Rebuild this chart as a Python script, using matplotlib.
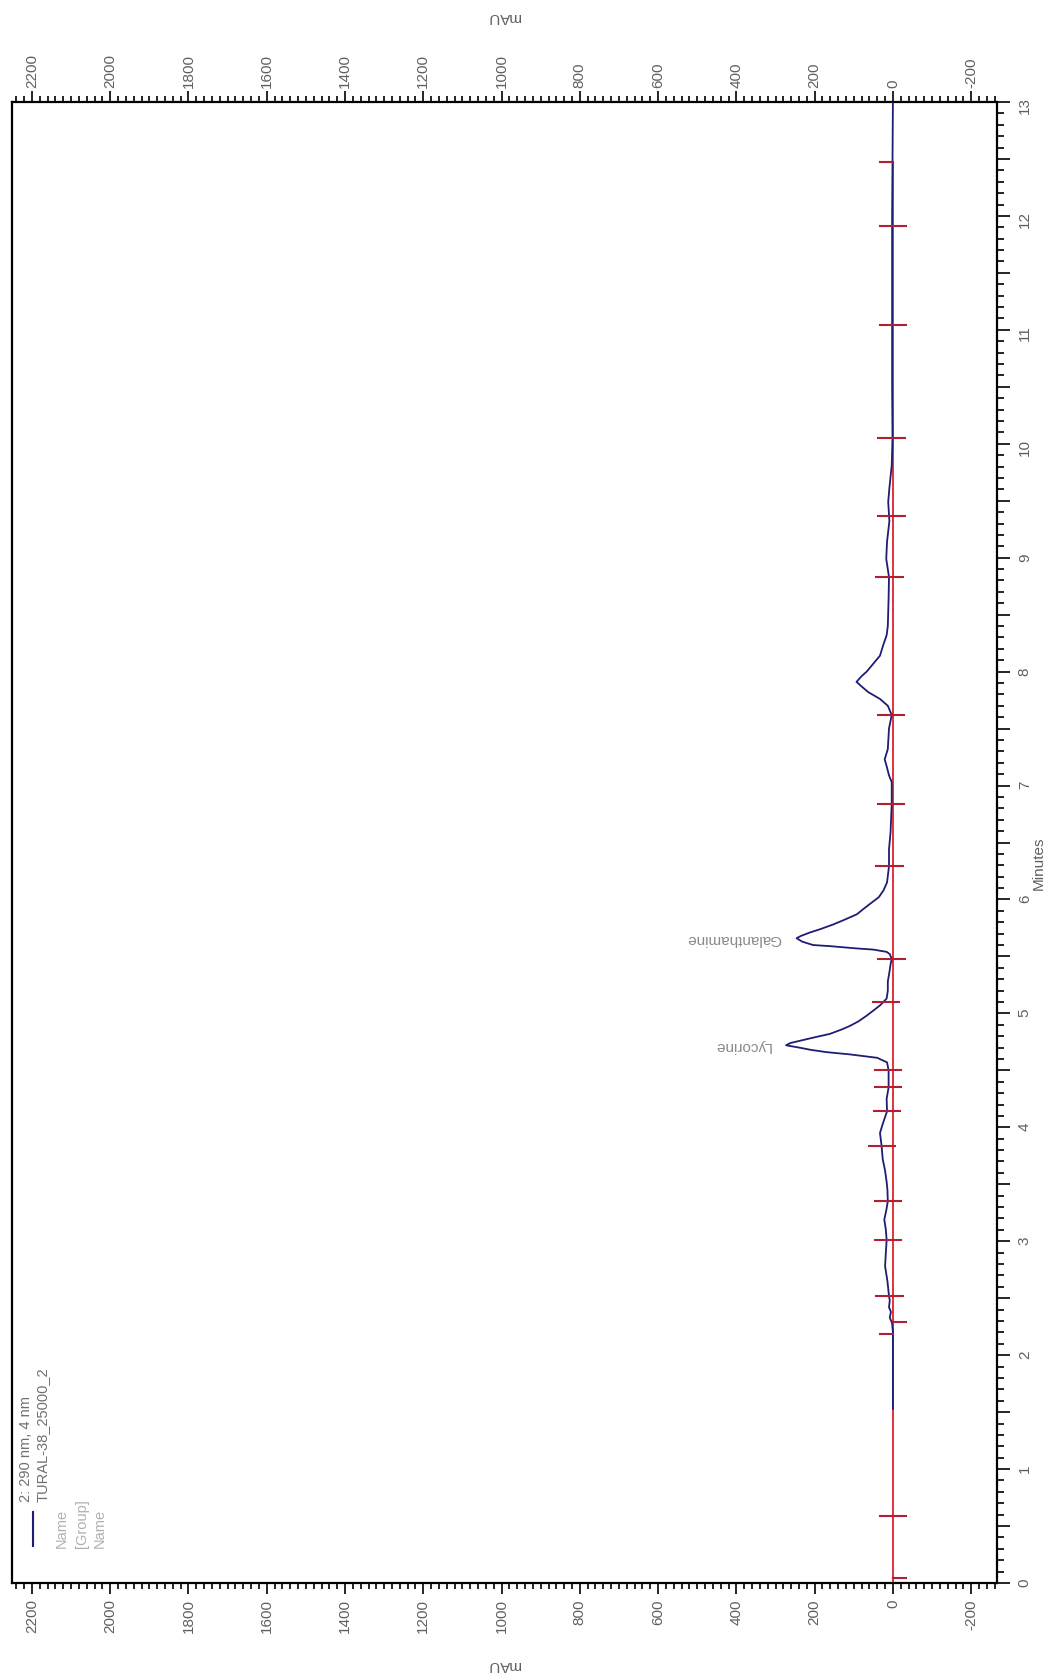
import numpy as np
import matplotlib
matplotlib.use('Agg')
import matplotlib.pyplot as plt
from matplotlib.ticker import MultipleLocator, FuncFormatter

plt.rcParams['font.family'] = ['Liberation Sans', 'DejaVu Sans']

# 290 nm channel, run TURAL-38_25000_2 (minutes, mAU)
trace_min = [1.53, 2.20, 2.28, 2.33, 2.38, 2.42, 2.48, 2.52, 2.65, 2.78, 2.90, 3.01,
             3.10, 3.19, 3.27, 3.35, 3.45, 3.52, 3.62, 3.72, 3.84, 3.95, 4.03, 4.14,
             4.25, 4.35, 4.50, 4.57, 4.61, 4.64, 4.66, 4.68, 4.70, 4.72, 4.74, 4.76,
             4.79, 4.82, 4.86, 4.89, 4.93, 4.98, 5.03, 5.07, 5.13, 5.20, 5.28, 5.36,
             5.43, 5.48, 5.52, 5.54, 5.56, 5.57, 5.59, 5.60, 5.63, 5.66, 5.68, 5.71,
             5.74, 5.78, 5.82, 5.87, 5.92, 5.96, 6.02, 6.08, 6.15, 6.29, 6.44, 6.59,
             6.84, 7.03, 7.09, 7.17, 7.23, 7.32, 7.50, 7.62, 7.70, 7.76, 7.82, 7.87,
             7.91, 7.96, 8.00, 8.07, 8.14, 8.23, 8.32, 8.40, 8.64, 8.83, 8.99, 9.14,
             9.32, 9.49, 9.61, 9.81, 10.05, 10.5, 11.0, 11.5, 12.0, 12.47, 13.0]
trace_mau = [0, 0, 2, 8, 5, 10, 8, 10, 14, 20, 18, 16,
             18, 22, 17, 13, 14, 16, 20, 26, 29, 33, 26, 15,
             16, 11, 11, 15, 40, 110, 170, 210, 240, 273, 262, 237,
             200, 161, 130, 110, 88, 67, 48, 33, 16, 13, 13, 9,
             6, 3, 8, 16, 50, 92, 160, 204, 232, 246, 235, 212,
             185, 153, 125, 92, 74, 59, 36, 24, 15, 10, 10, 6,
             3, 3, 10, 16, 21, 13, 10, 3, 13, 33, 63, 80,
             93, 80, 67, 50, 33, 25, 16, 13, 11, 10, 17, 15,
             9, 12, 9, 3, 1, 2, 2, 2, 2, 1, 0]

# integration event marks: time, level, which side of the trace is drawn
mark_min = [0.04, 0.59, 2.19, 2.29, 2.52, 3.01, 3.35, 3.84, 4.14, 4.35, 4.50,
            5.10, 5.48, 6.29, 6.84, 7.62, 8.83, 9.37, 10.05, 11.04, 11.91, 12.47]
mark_mau = [0, 0, 0, 0, 8, 13, 13, 28, 15, 13, 13,
            18, 3, 8, 5, 5, 8, 3, 3, 0, 0, 0]
mark_side = ['R', 'B', 'L', 'R', 'B', 'B', 'B', 'B', 'B', 'B', 'B',
             'B', 'B', 'B', 'B', 'B', 'B', 'B', 'B', 'B', 'B', 'L']

peak_names = ['Lycorine', 'Galanthamine']
peak_min = [4.72, 5.66]
peak_mau = [273, 246]

baseline_end = 12.47

W, H = 1046, 1681
fig = plt.figure(figsize=(W / 100, H / 100), dpi=100)
ax = fig.add_axes([12 / W, 97 / H, 985 / W, 1481 / H])

trace_col = '#1d1d74'
red = '#e2313c'
mark_col = '#b21e34'
label_col = '#606060'

ax.plot([0, 0], [0, baseline_end], color=red, lw=1.4, zorder=2)
ax.plot(trace_mau, trace_min, color=trace_col, lw=1.3, zorder=3)

half = 34
for t, v, s in zip(mark_min, mark_mau, mark_side):
    lo = v - half if s in ('B', 'R') else v
    hi = v + half if s in ('B', 'L') else v
    ax.plot([lo, hi], [t, t], color=mark_col, lw=1.5, zorder=4)

for name, t, v in zip(peak_names, peak_min, peak_mau):
    ax.annotate(name, xy=(v, t), xytext=(-15, 0), textcoords='offset pixels',
                rotation=180, ha='right', va='center', fontsize=11, color='#8a8a8a')

ax.set_xlim(2251, -266)
ax.set_ylim(0, 13)

ax.xaxis.set_major_locator(MultipleLocator(200))
ax.xaxis.set_minor_locator(MultipleLocator(20))
ax.xaxis.set_major_formatter(FuncFormatter(lambda v, p: f'{v:.0f}'))
ax.yaxis.set_major_locator(MultipleLocator(0.5))
ax.yaxis.set_minor_locator(MultipleLocator(0.1))
ax.yaxis.set_major_formatter(FuncFormatter(lambda v, p: f'{v:.0f}' if abs(v - round(v)) < 1e-6 else ''))

ax.tick_params(axis='x', which='both', top=True, bottom=True, labeltop=True, labelbottom=True,
               direction='out', labelrotation=90, labelsize=11, labelcolor=label_col, width=1.2)
ax.tick_params(axis='x', which='major', length=8, pad=3)
ax.tick_params(axis='x', which='minor', length=4)
ax.tick_params(axis='y', which='both', left=False, labelleft=False, right=True, labelright=True,
               direction='out', labelrotation=90, labelsize=11, labelcolor=label_col, width=1.2)
ax.tick_params(axis='y', which='major', length=9, pad=6)
ax.tick_params(axis='y', which='minor', length=5)

for sp in ax.spines.values():
    sp.set_linewidth(1.6)
    sp.set_color('black')

# axis titles
fig.text(504 / W, 1 - 17 / H, 'mAU', rotation=180, ha='center', va='center', fontsize=11, color=label_col)
fig.text(504 / W, 1 - 1665 / H, 'mAU', rotation=180, ha='center', va='center', fontsize=11, color=label_col)
fig.text(1039 / W, 1 - 863 / H, 'Minutes', rotation=90, ha='center', va='center', fontsize=11, color=label_col)

# legend block
fig.add_artist(plt.Line2D([33 / W, 33 / W], [1 - 1547 / H, 1 - 1513 / H], color=trace_col, lw=1.5))
fig.text(26 / W, 1 - 1502 / H, '2: 290 nm, 4 nm', rotation=90, ha='center', va='bottom', fontsize=10.5, color='#707070')
fig.text(43 / W, 1 - 1502 / H, 'TURAL-38_25000_2', rotation=90, ha='center', va='bottom', fontsize=10.5, color='#707070')
for x, s in zip([62, 82, 100], ['Name', '[Group]', 'Name']):
    fig.text(x / W, 1 - 1548 / H, s, rotation=90, ha='center', va='bottom', fontsize=10.5, color='#b0b0b0')

fig.savefig('out.png', dpi=100)
